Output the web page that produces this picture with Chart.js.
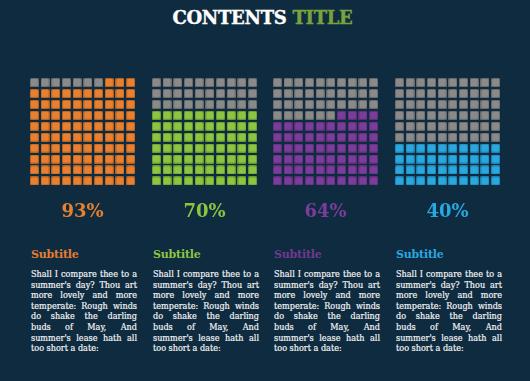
<!DOCTYPE html>
<html>
<head>
<meta charset="utf-8">
<script src="https://cdn.jsdelivr.net/npm/chart.js@4.4.1/dist/chart.umd.min.js"></script>
<style>
  html, body { margin: 0; padding: 0; }
  body { width: 530px; height: 381px; background: #0e2b40; position: relative; overflow: hidden; font-family: "DejaVu Serif", serif; }
  #title { position: absolute; left: 0; top: 7px; width: 525px; text-align: center; font: bold 18px "DejaVu Serif"; color: #fff; letter-spacing: -0.3px; -webkit-text-stroke: 0.4px #fff; }
  #title span { color: #7aa33e; -webkit-text-stroke: 0.4px #7aa33e; }
  .box { position: absolute; top: 77px; width: 107px; height: 148px; }
  .sub { position: absolute; top: 248px; font: bold 11px "DejaVu Serif"; letter-spacing: -0.2px; }
  .txt { position: absolute; top: 269px; width: 106px; font: 9px "DejaVu Serif Condensed", "DejaVu Serif"; color: #f4f4f4; -webkit-text-stroke: 0.2px #f4f4f4; }
  .txt div { height: 10.6px; line-height: 10.6px; text-align: justify; text-align-last: justify; white-space: nowrap; }
  .txt div.last { text-align-last: left; }
</style>
</head>
<body>
<div id="title">CONTENTS <span>TITLE</span></div>
<div id="cols"></div>
<script>
// Datos del gráfico
const categories = ["Subtitle", "Subtitle", "Subtitle", "Subtitle"];
const percents = [93, 70, 64, 40];
const bodyLines = [
    "Shall I compare thee to a",
    "summer's day? Thou art",
    "more lovely and more",
    "temperate: Rough winds",
    "do shake the darling",
    "buds of May, And",
    "summer's lease hath all",
    "too short a date:"
];

// Estilos
const colors = ["#e8802f", "#8cc53f", "#7b3d9b", "#29a8e0"];
const subColors = ["#e67d30", "#8cc53f", "#70398f", "#29a8e0"];
const emptyColor = "#8a8a8a";
const lefts = [30, 152, 273, 395];

// Crear celda cuadrada redondeada como imagen
const makeCell = (color) => {
    const c = document.createElement("canvas");
    c.width = 9; c.height = 9;
    const ctx = c.getContext("2d");
    ctx.fillStyle = color;
    ctx.beginPath();
    ctx.roundRect(0, 0, 9, 9, 1.6);
    ctx.fill();
    ctx.strokeStyle = "rgba(0,0,0,0.22)";
    ctx.lineWidth = 1;
    ctx.beginPath();
    ctx.roundRect(0.5, 0.5, 8, 8, 1.3);
    ctx.stroke();
    return c;
};

const cols = document.querySelector("#cols");
const emptyCell = makeCell(emptyColor);

percents.forEach((pct, i) => {
    // Crear contenedor del gráfico
    const box = document.createElement("div");
    box.className = "box";
    box.style.left = (lefts[i] - 1) + "px";
    const canvas = document.createElement("canvas");
    box.appendChild(canvas);
    cols.appendChild(box);

    // Celdas de 10x10, vacías arriba a la izquierda
    const fullCell = makeCell(colors[i]);
    const points = [];
    const styles = [];
    for (let r = 0; r < 10; r++) {
        for (let c = 0; c < 10; c++) {
            points.push({ x: c, y: 9 - r });
            styles.push(r * 10 + c < 100 - pct ? emptyCell : fullCell);
        }
    }

    new Chart(canvas, {
        type: 'scatter',
        data: { datasets: [{ data: points, pointStyle: styles, pointRadius: 5 }] },
        options: {
            responsive: true,
            maintainAspectRatio: false,
            animation: false,
            events: [],
            layout: { padding: 0, autoPadding: false },
            scales: {
                x: { display: false, min: -0.5, max: 9.5 },
                y: { display: false, min: -0.5, max: 9.5 }
            },
            plugins: {
                legend: { display: false },
                tooltip: { enabled: false },
                title: {
                    display: true,
                    position: 'bottom',
                    text: pct + "%",
                    color: colors[i],
                    font: { family: "DejaVu Serif", weight: 'bold', size: 18 },
                    padding: { top: 15, bottom: 2 }
                }
            }
        }
    });

    // Subtítulo y texto
    const sub = document.createElement("div");
    sub.className = "sub";
    sub.style.left = (lefts[i] + 1) + "px";
    sub.style.color = subColors[i];
    sub.textContent = categories[i];
    cols.appendChild(sub);

    const txt = document.createElement("div");
    txt.className = "txt";
    txt.style.left = (lefts[i] + 1) + "px";
    bodyLines.forEach((line, j) => {
        const d = document.createElement("div");
        d.textContent = line;
        if (j === bodyLines.length - 1) d.className = "last";
        txt.appendChild(d);
    });
    cols.appendChild(txt);
});
</script>
</body>
</html>
